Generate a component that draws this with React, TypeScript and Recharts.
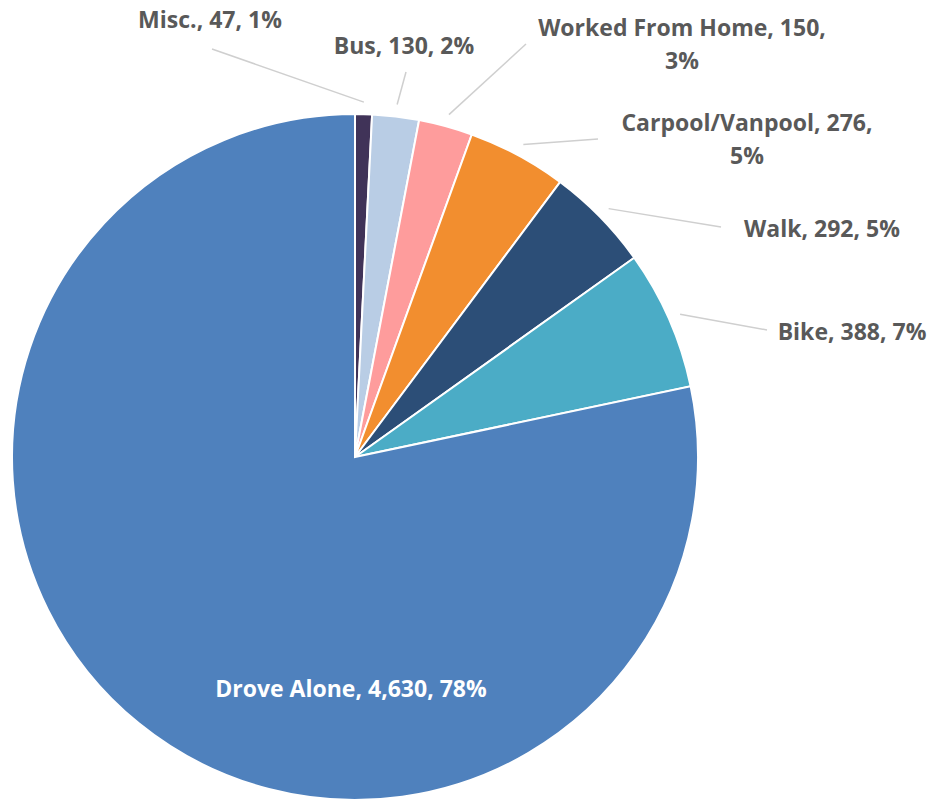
import { PieChart, Pie, Cell } from 'recharts';

const modes = ['Misc.', 'Bus', 'Worked From Home', 'Carpool/Vanpool', 'Walk', 'Bike', 'Drove Alone'];
const commuters = [47, 130, 150, 276, 292, 388, 4630];
const colors = ['#403358', '#b9cde5', '#fe9c9c', '#f28e2f', '#2c4e77', '#4bacc6', '#4f81bd'];

// where Excel put each data label (text centre) and where its leader line ends
const labelSpots = [
  { x: 210, y: 19, lines: 1, lx: 212, ly: 49 },
  { x: 404, y: 45, lines: 1, lx: 406, ly: 72 },
  { x: 682, y: 27, lines: 2, lx: 526, ly: 44 },
  { x: 747, y: 122, lines: 2, lx: 598, ly: 139 },
  { x: 822, y: 228, lines: 1, lx: 721, ly: 227 },
  { x: 852, y: 331, lines: 1, lx: 767, ly: 330 },
  { x: 351, y: 688, lines: 1, lx: null, ly: null },
];

const data = modes.map((name, i) => ({ name, value: commuters[i] }));
const RAD = Math.PI / 180;

const renderLabel = (props: any) => {
  const { cx, cy, midAngle, outerRadius, index, percent, name, value } = props;
  const spot = labelSpots[index];
  const pct = Math.round(percent * 100);
  const text = `${name}, ${value.toLocaleString('en-US')}, ${pct}%`;
  const inside = spot.lx === null;
  let leader = null;
  if (!inside) {
    const r = outerRadius + 12;
    const sx = cx + r * Math.cos(-midAngle * RAD);
    const sy = cy + r * Math.sin(-midAngle * RAD);
    leader = <line x1={sx} y1={sy} x2={spot.lx} y2={spot.ly} stroke="#cfcfcf" strokeWidth={1.5} />;
  }
  const style = { fontFamily: 'Open Sans, sans-serif', fontWeight: 700, fontSize: 23 };
  const fill = inside ? '#ffffff' : '#595959';
  if (spot.lines === 2) {
    const cut = text.lastIndexOf(', ');
    return (
      <g>
        {leader}
        <text x={spot.x} y={spot.y} textAnchor="middle" dominantBaseline="central" fill={fill} style={style}>
          {text.slice(0, cut + 1)}
        </text>
        <text x={spot.x} y={spot.y + 33} textAnchor="middle" dominantBaseline="central" fill={fill} style={style}>
          {text.slice(cut + 2)}
        </text>
      </g>
    );
  }
  return (
    <g>
      {leader}
      <text x={spot.x} y={spot.y} textAnchor="middle" dominantBaseline="central" fill={fill} style={style}>
        {text}
      </text>
    </g>
  );
};

export default function App() {
  return (
    <div style={{ position: 'absolute', left: 0, top: 0, width: 929, height: 800, background: '#fff' }}>
      <PieChart width={929} height={800} margin={{ top: 0, right: 0, bottom: 0, left: 0 }}>
        <Pie
          data={data}
          dataKey="value"
          nameKey="name"
          cx={355}
          cy={457}
          outerRadius={343}
          startAngle={90}
          endAngle={-270}
          stroke="#ffffff"
          strokeWidth={2}
          label={renderLabel}
          labelLine={false}
          isAnimationActive={false}
        >
          {data.map((d, i) => (
            <Cell key={d.name} fill={colors[i]} />
          ))}
        </Pie>
      </PieChart>
    </div>
  );
}
